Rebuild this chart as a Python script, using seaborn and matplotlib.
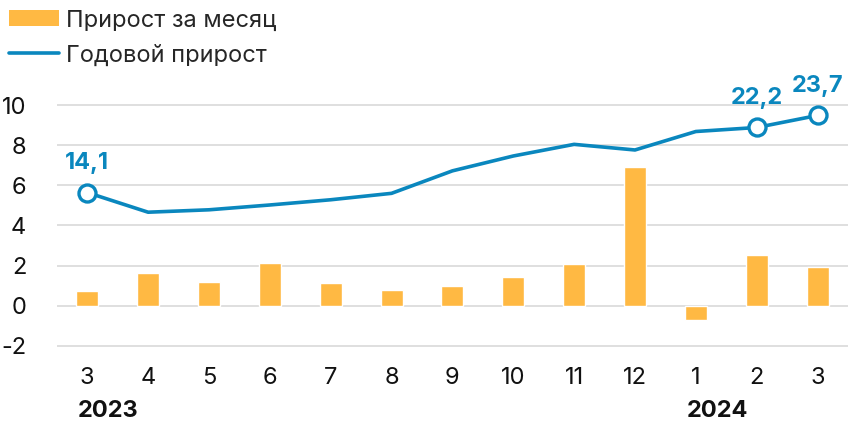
import matplotlib
matplotlib.use("Agg")
import matplotlib.pyplot as plt
import seaborn as sns
import pandas as pd
from matplotlib.patches import Patch
from matplotlib.lines import Line2D

months = ["3", "4", "5", "6", "7", "8", "9", "10", "11", "12", "1", "2", "3"]
monthly_growth = [0.75, 1.63, 1.18, 2.14, 1.12, 0.78, 1.0, 1.44, 2.09, 6.92, -0.7, 2.52, 1.94]
annual_growth = [14.1, 11.65, 11.95, 12.55, 13.2, 14.0, 16.8, 18.65, 20.1, 19.4, 21.7, 22.2, 23.7]
highlight_idx = [0, 11, 12]
year_labels = [(0, "2023"), (10, "2024")]
legend_labels = ["Прирост за месяц", "Годовой прирост"]

BAR_C = "#FFB943"
LINE_C = "#0A87BE"
FS = 17

sns.set_theme(style="white")
plt.rcParams["font.family"] = ["Inter", "DejaVu Sans"]

df = pd.DataFrame({"idx": list(range(len(months))), "m": monthly_growth, "a": annual_growth})

fig = plt.figure(figsize=(8.48, 4.23), dpi=100)
ax = fig.add_axes([0.067, 0.168, 0.933, 0.598])

sns.barplot(data=df, x="idx", y="m", color=BAR_C, saturation=1, width=0.36, ax=ax, zorder=3)
ax.set_xlim(-0.5, 12.5)
ylo, yhi = -2.3, 10.3
ax.set_ylim(ylo, yhi)
ax.set_yticks([-2, 0, 2, 4, 6, 8, 10])
ax.set_yticklabels(["-2", "0", "2", "4", "6", "8", "10"])
ax.set_xticks(range(len(months)))
ax.set_xticklabels(months)
ax.grid(axis="y", color="#DCDCDC", linewidth=1.3, zorder=0)
ax.set_axisbelow(True)
for s in ax.spines.values():
    s.set_visible(False)
ax.tick_params(axis="both", length=0, labelsize=FS, colors="#111111")
ax.tick_params(axis="y", pad=22)
ax.tick_params(axis="x", pad=11)
ax.set_xlabel("")
ax.set_ylabel("")

ax2 = ax.twinx()
ax2.set_ylim(ylo * 2.5, yhi * 2.5)
sns.lineplot(data=df, x="idx", y="a", color=LINE_C, linewidth=2.6, ax=ax2, zorder=4)
hl = df.iloc[highlight_idx]
ax2.scatter(hl["idx"], hl["a"], s=150, facecolor="white", edgecolor=LINE_C, linewidth=2.4, zorder=5, clip_on=False)
for _, r in hl.iterrows():
    ax2.annotate(f"{r['a']:.1f}".replace(".", ","), (r["idx"], r["a"]), xytext=(0, 21),
                 textcoords="offset points", ha="center", va="center", fontsize=FS,
                 fontweight="bold", color=LINE_C, annotation_clip=False)
ax2.set_yticks([])
ax2.set_ylabel("")
for s in ax2.spines.values():
    s.set_visible(False)

for i, y in year_labels:
    ax.text(i - 0.15, -0.19, y, transform=ax.get_xaxis_transform(), ha="left", va="top",
            fontsize=FS, fontweight="bold", color="#111111")

handles = [Patch(facecolor=BAR_C, edgecolor="none"), Line2D([0], [0], color=LINE_C, linewidth=2.6)]
fig.legend(handles, legend_labels, loc="upper left", bbox_to_anchor=(0.0, 1.0), frameon=False,
           fontsize=FS, handlelength=2.1, handleheight=0.7, handletextpad=0.3, labelspacing=0.55,
           borderaxespad=0.3, borderpad=0.1)

fig.savefig("out.png", dpi=100)
